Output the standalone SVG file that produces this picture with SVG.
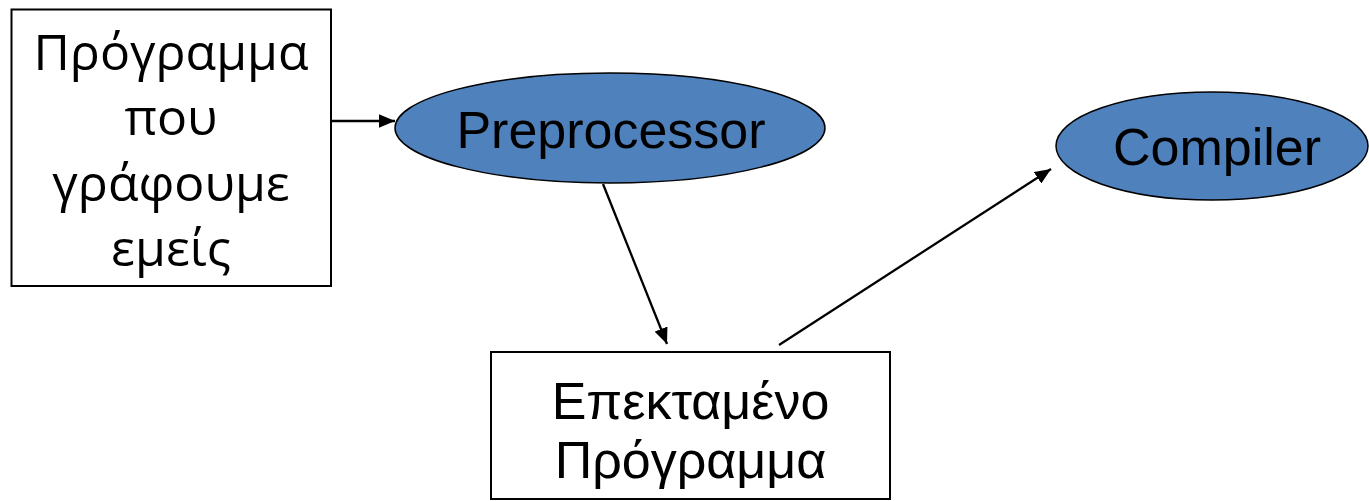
<svg xmlns="http://www.w3.org/2000/svg" width="1369" height="501" viewBox="0 0 1369 501">
<defs>
<style>
.box{fill:#fff;stroke:#000;stroke-width:2}
.ell{fill:#4F81BD;stroke:#000;stroke-width:1.5}
.t1{font-family:"Open Sans","Noto Sans",sans-serif;font-size:50px;fill:#000;text-anchor:middle}
.t2{font-family:"Liberation Sans",Arial,sans-serif;font-size:52px;fill:#000;text-anchor:middle}
.conn{stroke:#000;stroke-width:2.3;fill:none}
</style>
<marker id="ah" markerWidth="7" markerHeight="6" refX="7" refY="3" orient="auto" markerUnits="strokeWidth">
<path d="M0,0 L7,3 L0,6 z" fill="#000"/>
</marker>
</defs>
<rect width="1369" height="501" fill="#fff"/>
<g id="connectors">
<line class="conn" x1="331" y1="121" x2="395" y2="121" marker-end="url(#ah)"/>
<line class="conn" x1="603" y1="184" x2="667" y2="344" marker-end="url(#ah)"/>
<line class="conn" x1="779" y1="345" x2="1051" y2="169" marker-end="url(#ah)"/>
</g>
<g id="node-source">
<rect class="box" x="11.5" y="9.5" width="319.5" height="276.5"/>
<text class="t1" x="171" y="70">Πρόγραμμα</text>
<text class="t1" x="171" y="135">που</text>
<text class="t1" x="171" y="201">γράφουμε</text>
<text class="t1" x="171" y="266">εμείς</text>
</g>
<g id="node-preprocessor">
<ellipse class="ell" cx="610" cy="128" rx="215" ry="55"/>
<text class="t2" x="611" y="148">Preprocessor</text>
</g>
<g id="node-compiler">
<ellipse class="ell" cx="1212" cy="146" rx="156" ry="54"/>
<text class="t2" x="1217" y="165">Compiler</text>
</g>
<g id="node-expanded">
<rect class="box" x="491" y="352" width="399" height="147"/>
<text class="t2" x="690.5" y="419">Επεκταμένο</text>
<text class="t2" x="690.5" y="478">Πρόγραμμα</text>
</g>
</svg>
